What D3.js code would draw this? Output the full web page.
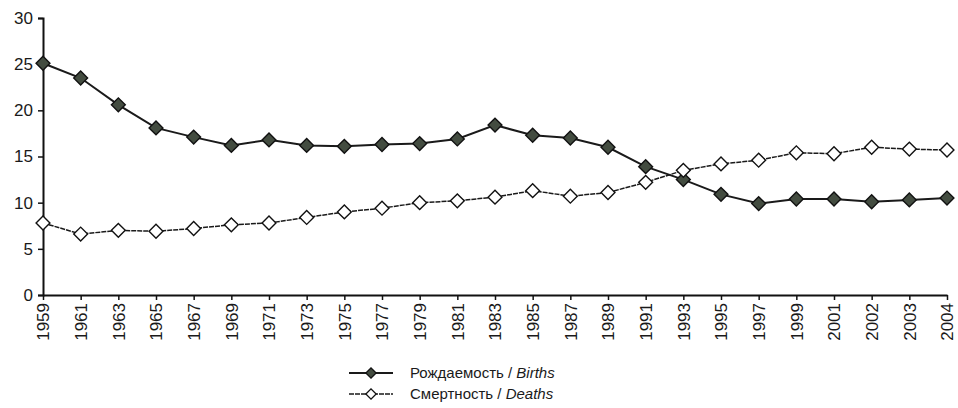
<!DOCTYPE html>
<html>
<head>
<meta charset="utf-8">
<script src="https://cdn.jsdelivr.net/npm/d3@7"></script>
<style>
  body { margin: 0; background: #fff; }
  svg text { font-family: "Liberation Sans", Arial, sans-serif; fill: #1a1a1a; }
</style>
</head>
<body>
<svg id="chart" width="958" height="408"></svg>
<script>
const years = ["1959","1961","1963","1965","1967","1969","1971","1973","1975","1977","1979",
  "1981","1983","1985","1987","1989","1991","1993","1995","1997","1999","2001","2002","2003","2004"];
const births = [25.1,23.5,20.6,18.1,17.1,16.2,16.8,16.2,16.1,16.3,16.4,16.9,18.4,17.3,17.0,16.0,
  13.9,12.5,10.9,9.9,10.4,10.4,10.1,10.3,10.5];
const deaths = [7.8,6.6,7.0,6.9,7.2,7.6,7.8,8.4,9.0,9.4,10.0,10.2,10.6,11.3,10.7,11.1,
  12.2,13.5,14.2,14.6,15.4,15.3,16.0,15.8,15.7];
const yTicks = [0,5,10,15,20,25,30];
const legendLabels = [["Рождаемость / ", "Births"], ["Смертность / ", "Deaths"]];

const svg = d3.select("#chart");
const margin = {left: 43, top: 18};

const x = d3.scalePoint().domain(years).range([margin.left, 947]);
const y = d3.scaleLinear().domain([0, 30]).range([295, margin.top]);

// axes
const yAxis = svg.append("g")
    .attr("transform", `translate(${margin.left},0)`)
    .call(d3.axisLeft(y).tickValues(yTicks).tickSize(5).tickPadding(5));
yAxis.select(".domain").attr("stroke", "#111").attr("stroke-width", 2);
yAxis.selectAll(".tick line").attr("stroke", "#111").attr("stroke-width", 1.5);
yAxis.selectAll("text").attr("font-size", 17).attr("fill", "#1a1a1a")
    .style("font-family", "Liberation Sans, Arial, sans-serif");

const xAxis = svg.append("g")
    .attr("transform", `translate(0,295)`)
    .call(d3.axisBottom(x).tickSize(5).tickSizeOuter(0));
xAxis.select(".domain").attr("stroke", "#111").attr("stroke-width", 2);
xAxis.selectAll(".tick line").attr("stroke", "#111").attr("stroke-width", 1.5);
xAxis.selectAll("text")
    .attr("font-size", 17).attr("fill", "#1a1a1a")
    .style("font-family", "Liberation Sans, Arial, sans-serif")
    .attr("transform", "rotate(-90)")
    .attr("text-anchor", "end")
    .attr("dy", "0.35em")
    .attr("x", -8).attr("y", 0);

// rotated square gives the wide diamond of the original
const diamond = d3.symbol().type(d3.symbolSquare).size(96);
const smallDiamond = d3.symbol().type(d3.symbolSquare).size(52);

const series = [
  {values: births, fill: "#434c40", width: 2, dash: null},
  {values: deaths, fill: "#ffffff", width: 1.5, dash: "5,1"}
];

const line = d3.line().x((d, i) => x(years[i])).y(d => y(d));

series.forEach(s => {
  svg.append("path")
      .datum(s.values)
      .attr("fill", "none")
      .attr("stroke", "#1a1a1a")
      .attr("stroke-width", s.width)
      .attr("stroke-dasharray", s.dash)
      .attr("d", line);
});
series.forEach(s => {
  svg.append("g").selectAll("path")
    .data(s.values).enter()
    .append("path")
      .attr("d", diamond)
      .attr("transform", (d, i) => `translate(${x(years[i])},${y(d)}) rotate(45)`)
      .attr("fill", s.fill)
      .attr("stroke", "#111")
      .attr("stroke-width", 1.4);
});

// legend
const legend = svg.append("g").attr("transform", "translate(349,373)");
legendLabels.forEach((lab, i) => {
  const g = legend.append("g").attr("transform", `translate(0,${i * 21})`);
  g.append("line").attr("x1", 0).attr("x2", 44).attr("y1", 0).attr("y2", 0)
      .attr("stroke", "#1a1a1a").attr("stroke-width", series[i].width)
      .attr("stroke-dasharray", series[i].dash);
  g.append("path").attr("d", smallDiamond).attr("transform", "translate(22,0) rotate(45)")
      .attr("fill", series[i].fill).attr("stroke", "#111").attr("stroke-width", 1.3);
  const t = g.append("text").attr("x", 61).attr("y", 0).attr("dy", "0.35em")
      .attr("font-size", 15);
  t.append("tspan").text(lab[0]);
  t.append("tspan").attr("font-style", "italic").text(lab[1]);
});
</script>
</body>
</html>
